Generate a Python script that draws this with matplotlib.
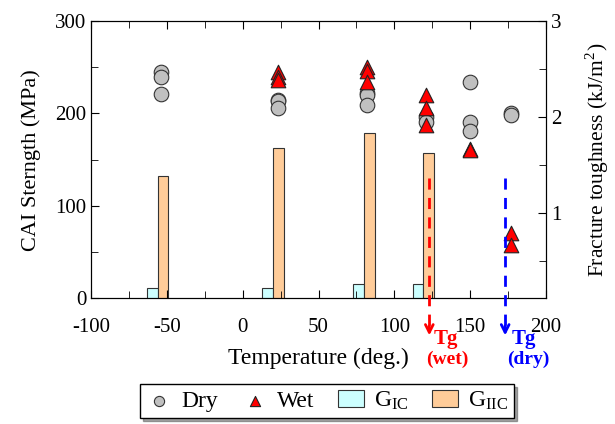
import matplotlib
matplotlib.use("Agg")
import matplotlib.pyplot as plt
from matplotlib.ticker import MultipleLocator
import numpy as np

plt.rcParams['font.family'] = ['Liberation Serif', 'DejaVu Serif']
plt.rcParams['mathtext.fontset'] = 'stix'
plt.rcParams['axes.unicode_minus'] = False

# CAI strength (MPa) vs temperature
dry_temp = [-54, -54, -54, 23, 23, 23, 82, 82, 82, 121, 121, 150, 150, 150, 177, 177]
dry_cai = [245, 240, 221, 215, 213, 206, 222, 220, 209, 196, 191, 234, 191, 181, 200, 198]
wet_temp = [23, 23, 23, 82, 82, 82, 121, 121, 121, 150, 150, 177, 177]
wet_cai = [245, 240, 236, 250, 246, 234, 220, 206, 187, 162, 160, 70, 57]

# fracture toughness (kJ/m^2)
bar_temp = [-56, 20, 80, 119]
g_ic = [0.22, 0.22, 0.26, 0.26]
g_iic = [1.39, 1.68, 1.83, 1.63]

# glass transition temperatures
tg_wet = 123
tg_dry = 173

fig = plt.figure(figsize=(6.15, 4.24), dpi=100)
ax = fig.add_axes([0.148, 0.297, 0.740, 0.653])
ax2 = ax.twinx()
ax.set_zorder(ax2.get_zorder() + 1)
ax.patch.set_visible(False)

bw = 7
ax2.bar(np.array(bar_temp) - bw / 2, g_ic, width=bw, color='#ccffff',
        edgecolor='#333333', linewidth=0.8, label=r'G$_\mathregular{IC}$')
ax2.bar(np.array(bar_temp) + bw / 2, g_iic, width=bw, color='#ffcc99',
        edgecolor='#333333', linewidth=0.8, label=r'G$_\mathregular{IIC}$')

ax.scatter(dry_temp, dry_cai, s=110, marker='o', color='#c0c0c0',
           edgecolor='#333333', linewidth=0.8, label='Dry', zorder=3)
ax.scatter(wet_temp, wet_cai, s=110, marker='^', color='#ff0000',
           edgecolor='#222222', linewidth=0.8, label='Wet', zorder=4)

# Tg dashed arrows
for t, c in [(tg_wet, 'red'), (tg_dry, 'blue')]:
    ax.plot([t, t], [130, -30], ls=(0, (4, 3)), color=c, lw=2, clip_on=False, zorder=5)
    ax.annotate('', xy=(t, -0.145), xytext=(t, -0.09),
                xycoords=('data', 'axes fraction'),
                arrowprops=dict(arrowstyle='->', color=c, lw=2, mutation_scale=14),
                annotation_clip=False)

fig.text(446 / 615, 1 - 339 / 424, 'Tg', color='red', fontsize=15, fontweight='bold',
         ha='center', va='center')
fig.text(447 / 615, 1 - 359 / 424, '(wet)', color='red', fontsize=14, fontweight='bold',
         ha='center', va='center')
fig.text(524 / 615, 1 - 339 / 424, 'Tg', color='blue', fontsize=15, fontweight='bold',
         ha='center', va='center')
fig.text(528 / 615, 1 - 359 / 424, '(dry)', color='blue', fontsize=14, fontweight='bold',
         ha='center', va='center')

ax.set_xlim(-100, 200)
ax.set_ylim(0, 300)
ax2.set_ylim(0.115, 3.0)
ax.xaxis.set_major_locator(MultipleLocator(50))
ax.xaxis.set_minor_locator(MultipleLocator(25))
ax.yaxis.set_major_locator(MultipleLocator(100))
ax.yaxis.set_minor_locator(MultipleLocator(50))
ax2.yaxis.set_major_locator(MultipleLocator(1))
ax2.yaxis.set_minor_locator(MultipleLocator(0.5))

ax.tick_params(which='both', direction='in', top=True, right=False, labelsize=15)
ax.tick_params(which='major', length=6)
ax.tick_params(which='minor', length=5)
ax2.tick_params(which='both', direction='in', labelsize=15)
ax2.tick_params(which='major', length=6)
ax2.tick_params(which='minor', length=5)
ax.tick_params(axis='x', pad=14)

ax.set_xlabel('Temperature (deg.)', fontsize=17, labelpad=8)
ax.set_ylabel('CAI Sterngth (MPa)', fontsize=16, labelpad=10)
ax2.set_ylabel(r'Fracture toughness (kJ/m$^\mathregular{2}$)', fontsize=15.5, labelpad=16)

h1, l1 = ax.get_legend_handles_labels()
h2, l2 = ax2.get_legend_handles_labels()
leg = fig.legend(h1 + h2, l1 + l2, ncol=4, loc='center', bbox_to_anchor=(327 / 615, 1 - 401 / 424),
                 fontsize=17, frameon=True, fancybox=False, shadow=True, edgecolor='black',
                 handlelength=1.1, handletextpad=0.4, columnspacing=1.0, borderpad=0.25,
                 markerscale=0.7)
leg.get_frame().set_linewidth(1.0)

fig.savefig('out.png', dpi=100)
